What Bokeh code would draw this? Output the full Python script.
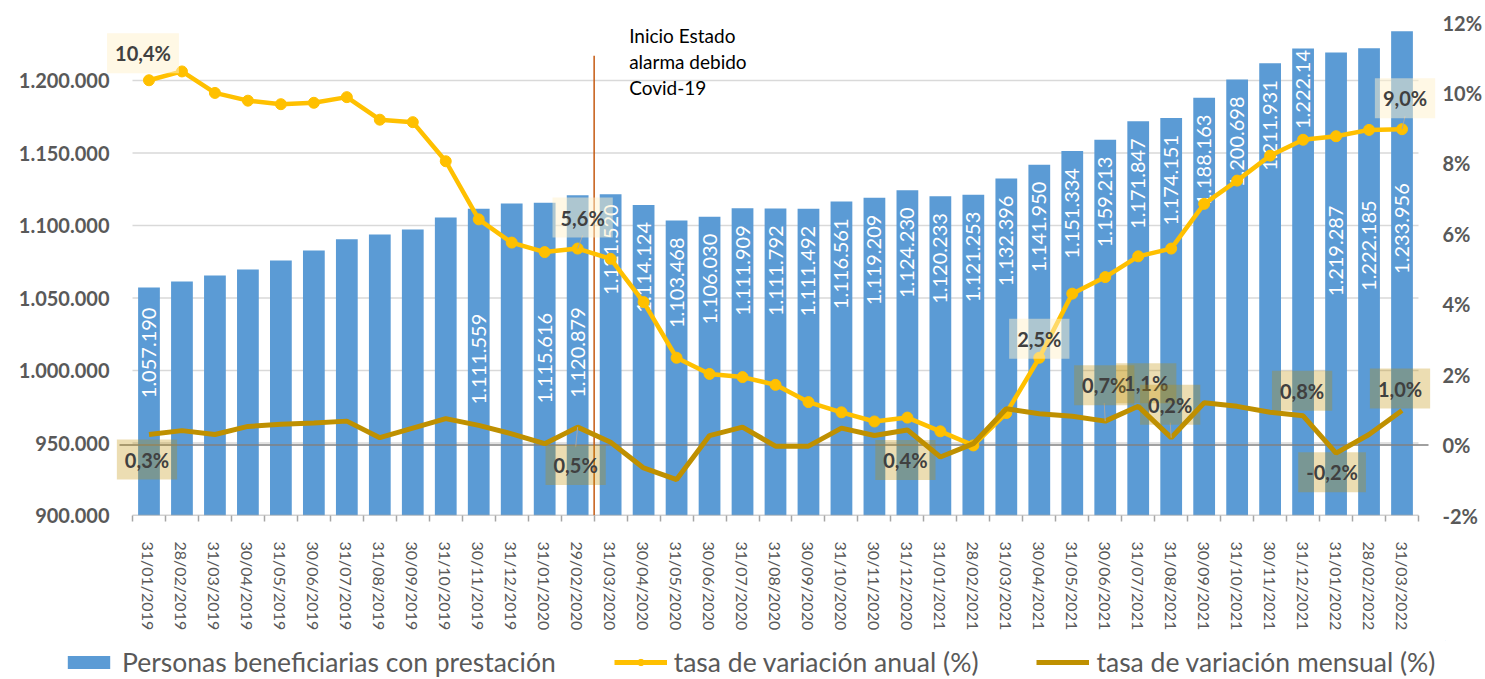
import math
from bokeh.plotting import figure
from bokeh.layouts import column
from bokeh.models import (Range1d, LinearAxis, FixedTicker, Label, Legend,
                          LegendItem, ColumnDataSource)
from bokeh.embed import file_html
from bokeh.resources import INLINE
from bokeh.core.properties import value

# ---------------- data ----------------
fechas = [
    "31/01/2019", "28/02/2019", "31/03/2019", "30/04/2019", "31/05/2019", "30/06/2019",
    "31/07/2019", "31/08/2019", "30/09/2019", "31/10/2019", "30/11/2019", "31/12/2019",
    "31/01/2020", "29/02/2020", "31/03/2020", "30/04/2020", "31/05/2020", "30/06/2020",
    "31/07/2020", "31/08/2020", "30/09/2020", "31/10/2020", "30/11/2020", "31/12/2020",
    "31/01/2021", "28/02/2021", "31/03/2021", "30/04/2021", "31/05/2021", "30/06/2021",
    "31/07/2021", "31/08/2021", "30/09/2021", "31/10/2021", "30/11/2021", "31/12/2021",
    "31/01/2022", "28/02/2022", "31/03/2022",
]
beneficiarios = [
    1057190, 1061400, 1065500, 1069700, 1075900, 1082800, 1090600, 1093800, 1097200,
    1105500, 1111559, 1115100, 1115616, 1120879, 1121520, 1114124, 1103468, 1106030,
    1111909, 1111792, 1111492, 1116561, 1119209, 1124230, 1120233, 1121253, 1132396,
    1141950, 1151334, 1159213, 1171847, 1174151, 1188163, 1200698, 1211931, 1222141,
    1219287, 1222185, 1233956,
]
tasa_anual = [
    10.36, 10.61, 10.00, 9.78, 9.68, 9.72, 9.88, 9.24, 9.17, 8.06, 6.41, 5.75, 5.48,
    5.58, 5.29, 4.06, 2.48, 2.02, 1.93, 1.71, 1.22, 0.93, 0.67, 0.78, 0.39, -0.01,
    0.91, 2.48, 4.30, 4.77, 5.36, 5.58, 6.85, 7.51, 8.22, 8.67, 8.77, 8.95, 8.97,
]
tasa_mensual = [
    0.30, 0.41, 0.30, 0.53, 0.59, 0.63, 0.68, 0.21, 0.48, 0.75, 0.56, 0.32, 0.04,
    0.51, 0.08, -0.65, -0.98, 0.27, 0.51, -0.03, -0.03, 0.48, 0.27, 0.43, -0.34,
    0.04, 1.03, 0.89, 0.82, 0.68, 1.10, 0.21, 1.20, 1.10, 0.93, 0.83, -0.23, 0.30,
    0.98,
]
left_ticks = [900000, 950000, 1000000, 1050000, 1100000, 1150000, 1200000]
right_ticks = [-2, 0, 2, 4, 6, 8, 10, 12]
covid_fecha = "31/03/2020"
covid_texto = "Inicio Estado\nalarma debido\nCovid-19"
leyenda = ["Personas beneficiarias con prestación", "tasa de variación anual (%)",
           "tasa de variación mensual (%)"]

# ---------------- styling / layout ----------------
FONT = "Lato"
GRAY = "#595959"
BLUE = "#5B9BD5"
YELLOW = "#FFC000"
GOLD = "#BF9000"

W, H = 1485, 679
H_MAIN = 640
PLOT_L, PLOT_R, PLOT_T, PLOT_B = 132, 1418, 22, 515   # Excel plot area (px)
FRAME_L, FRAME_R = 62, 1445                          # bokeh frame (room for labels)
LEFT_LABEL_END, RIGHT_LABEL_START = 109, 1442

# which bars carry a value label and how far (px) below the bar top it starts
sin_etiqueta = {1, 2, 3, 4, 5, 6, 7, 8, 9, 11}
pad_default = 17
pad_especial = {0: 20, 10: 105, 12: 110, 13: 112, 14: 10, 35: -10, 36: 153, 37: 152, 38: 152}

# data labels: (index, dx, dy, leader) dx/dy in screen px, dy positive = downwards
etq_anual = [(0, -6, -27, False), (13, 5, -31, True), (27, 0, -19, False),
             (38, 3, -31, True)]
etq_mensual = [(0, -2, 25, False), (13, -2, 38, True), (23, -2, 30, False),
               (29, -1, -36, True), (30, 8, -23, False), (31, -1, -33, True),
               (35, -1, -25, False), (36, -4, 19, False), (38, -2, -22, False)]
BOX_H = 36


def fmt_miles(v):
    return f"{v:,}".replace(",", ".")


def fmt_pct(v):
    return f"{v:.1f}%".replace(".", ",")


n = len(fechas)
xs = list(range(n))
px_cat = (PLOT_R - PLOT_L) / n
x0 = -0.5 - (PLOT_L - FRAME_L) / px_cat
x1 = n - 0.5 + (FRAME_R - PLOT_R) / px_cat
pct_per_px = (right_ticks[-1] - right_ticks[0]) / (PLOT_B - PLOT_T)

p = figure(width=W, height=H_MAIN, output_backend="svg", toolbar_location=None,
           x_range=Range1d(x0, x1), y_range=Range1d(900000, 1240000),
           min_border_left=FRAME_L, min_border_right=W - FRAME_R,
           min_border_top=PLOT_T, min_border_bottom=H_MAIN - PLOT_B)
p.extra_y_ranges = {"pct": Range1d(right_ticks[0], right_ticks[-1])}
p.outline_line_color = None
p.xgrid.visible = False
p.ygrid.visible = False

# left axis (labels pulled into the wide frame margin)
yl = p.yaxis[0]
yl.ticker = FixedTicker(ticks=left_ticks)
yl.major_label_overrides = {t: fmt_miles(t) for t in left_ticks}
yl.axis_line_color = None
yl.major_tick_line_color = None
yl.minor_tick_line_color = None
yl.major_tick_out = 0
yl.major_tick_in = 0
yl.major_label_standoff = FRAME_L - LEFT_LABEL_END
yl.major_label_text_font = FONT
yl.major_label_text_font_size = "20px"
yl.major_label_text_font_style = "bold"
yl.major_label_text_color = GRAY

# right axis
yr = LinearAxis(y_range_name="pct", ticker=FixedTicker(ticks=right_ticks))
yr.major_label_overrides = {t: f"{t}%" for t in right_ticks}
yr.axis_line_color = None
yr.major_tick_line_color = None
yr.minor_tick_line_color = None
yr.major_tick_out = 0
yr.major_tick_in = 0
yr.major_label_standoff = RIGHT_LABEL_START - FRAME_R
yr.major_label_text_font = FONT
yr.major_label_text_font_size = "20px"
yr.major_label_text_font_style = "bold"
yr.major_label_text_color = GRAY
p.add_layout(yr, "right")

# x axis
xa = p.xaxis[0]
xa.ticker = FixedTicker(ticks=xs, minor_ticks=[i - 0.5 for i in range(n + 1)])
xa.major_label_overrides = {i: d for i, d in enumerate(fechas)}
xa.major_label_orientation = "vertical"
xa.major_tick_line_color = None
xa.major_tick_in = 0
xa.major_tick_out = 0
xa.minor_tick_in = 0
xa.minor_tick_out = 6
xa.minor_tick_line_color = "#A6A6A6"
xa.minor_tick_line_width = 1.5
xa.axis_line_color = None
xa.major_label_standoff = 20
xa.major_label_text_font = FONT
xa.major_label_text_font_size = "16px"
xa.major_label_text_color = GRAY

# gridlines limited to the Excel plot area
grid_y = left_ticks[1:]
p.segment(x0=[-0.5] * len(grid_y), y0=grid_y, x1=[n - 0.5] * len(grid_y), y1=grid_y,
          line_color="#D9D9D9", line_width=1.5)

# bars
barras = p.vbar(x=xs, top=beneficiarios, bottom=0, width=0.66, fill_color=BLUE,
                line_color=None)

# x axis line
p.segment(x0=[-0.5], y0=[left_ticks[0]], x1=[n - 0.5], y1=[left_ticks[0]],
          line_color="#A6A6A6", line_width=1.5)

# bar labels
lab_x, lab_y, lab_t, lab_off = [], [], [], []
for i, v in enumerate(beneficiarios):
    if i in sin_etiqueta:
        continue
    lab_x.append(i)
    lab_y.append(v)
    lab_t.append(fmt_miles(v))
    lab_off.append(pad_especial.get(i, pad_default))
src_lab = ColumnDataSource(dict(x=lab_x, y=lab_y, t=lab_t, off=lab_off))
p.text(x="x", y="y", text="t", y_offset="off", source=src_lab, angle=math.pi / 2,
       text_align="right", text_baseline="middle", text_color="white",
       text_font=value(FONT), text_font_size="20px")

# zero line of the percentage axis
p.segment(x0=[-0.5 - 13 / px_cat], y0=[0], x1=[n - 0.5 + 10 / px_cat], y1=[0],
          y_range_name="pct", line_color="#808080", line_width=1.5)

# covid marker
xc = fechas.index(covid_fecha) - 0.5
p.segment(x0=[xc], y0=[900000], x1=[xc], y1=[1217000], line_color="#C55A11",
          line_width=1.5)
p.add_layout(Label(x=xc, y=PLOT_B - 23, y_units="screen", x_offset=35,
                   text=covid_texto, text_baseline="top", text_align="left",
                   text_font=FONT, text_font_size="19px", text_color="black",
                   text_line_height=1.15))

# lines
l_anual = p.line(xs, tasa_anual, y_range_name="pct", line_color=YELLOW, line_width=4.5)
m_anual = p.scatter(xs, tasa_anual, y_range_name="pct", size=11, fill_color=YELLOW,
                    line_color=YELLOW)
l_mens = p.line(xs, tasa_mensual, y_range_name="pct", line_color=GOLD, line_width=5)

# leader lines + data labels
for serie, etqs in ((tasa_anual, etq_anual), (tasa_mensual, etq_mensual)):
    for idx, dx, dy, leader in etqs:
        if leader:
            edge = dy + BOX_H / 2 if dy < 0 else dy - BOX_H / 2
            p.segment(x0=[idx], y0=[serie[idx]], x1=[idx + dx / px_cat],
                      y1=[serie[idx] - edge * pct_per_px], y_range_name="pct",
                      line_color="#A6A6A6", line_width=1)


def add_label(idx, serie, dx, dy, fill, alpha):
    p.add_layout(Label(x=idx, y=serie[idx], y_range_name="pct", x_offset=dx,
                       y_offset=-dy, text=fmt_pct(serie[idx]), text_align="center",
                       text_baseline="middle", text_font=FONT, text_font_size="20px",
                       text_font_style="bold", text_color="#404040",
                       background_fill_color=fill, background_fill_alpha=alpha,
                       padding=8))


for idx, dx, dy, _ in etq_anual:
    add_label(idx, tasa_anual, dx, dy, "#FFF2CC", 0.5)
for idx, dx, dy, _ in etq_mensual:
    add_label(idx, tasa_mensual, dx, dy, GOLD, 0.3)

# ---------------- legend strip ----------------
pl = figure(width=W, height=H - H_MAIN, output_backend="svg", toolbar_location=None,
            x_range=Range1d(0, 1), y_range=Range1d(0, 1), x_axis_location=None,
            y_axis_location=None, min_border=0, min_border_left=FRAME_L,
            min_border_right=W - FRAME_R, min_border_top=0, min_border_bottom=0)
pl.outline_line_color = None
pl.xgrid.visible = False
pl.ygrid.visible = False
# proxies outside the visible range, only used to draw the legend glyphs
g_bar = pl.vbar(x=[5], top=[5], bottom=[4], width=0.5, fill_color=BLUE, line_color=None)
g_la = pl.line([5, 6], [5, 6], line_color=YELLOW, line_width=5)
g_ma = pl.scatter([5], [5], size=11, fill_color=YELLOW, line_color=YELLOW)
g_lm = pl.line([5, 6], [5, 6], line_color=GOLD, line_width=5)
legend = Legend(items=[
    LegendItem(label=leyenda[0], renderers=[g_bar]),
    LegendItem(label=leyenda[1], renderers=[g_la, g_ma]),
    LegendItem(label=leyenda[2], renderers=[g_lm]),
], orientation="horizontal", location=(0, 1), glyph_width=53,
    glyph_height=16, label_standoff=7, spacing=58, padding=0, margin=0,
    border_line_color=None, background_fill_alpha=0, label_text_font=FONT,
    label_text_font_size="26.5px", label_text_color=GRAY)
pl.add_layout(legend)

open("out.html", "w").write(file_html(column(p, pl), INLINE))
